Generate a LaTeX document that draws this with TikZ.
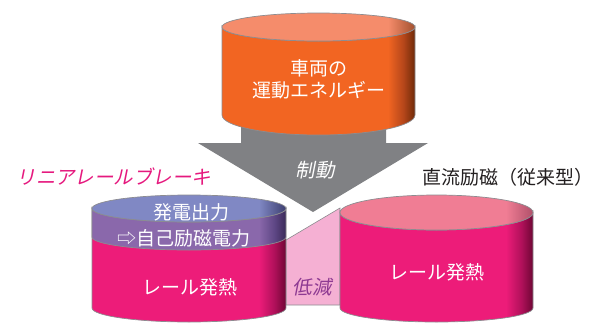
\documentclass[tikz,border=0pt]{standalone}
\usepackage{fontspec}
\newfontfamily\jp{Noto Sans CJK JP}
\newfontfamily\jpit{Noto Sans CJK JP}[FakeSlant=0.2]
\definecolor{orA}{HTML}{F26522}
\definecolor{orB}{HTML}{B5461A}
\definecolor{orC}{HTML}{6E2A08}
\definecolor{orTop}{HTML}{F58C6B}
\definecolor{orTopD}{HTML}{A3512F}
\definecolor{pkA}{HTML}{ED1C79}
\definecolor{pkB}{HTML}{B0105A}
\definecolor{pkC}{HTML}{6E0634}
\definecolor{pkTop}{HTML}{F07D94}
\definecolor{pkTopD}{HTML}{B0506A}
\definecolor{puA}{HTML}{8A68AB}
\definecolor{puB}{HTML}{5E4785}
\definecolor{puC}{HTML}{3A2A58}
\definecolor{lvTop}{HTML}{8088C4}
\definecolor{lvTopD}{HTML}{3D3F70}
\definecolor{arrowgray}{HTML}{808184}
\definecolor{linkpink}{HTML}{F5B0D3}
\definecolor{railpink}{HTML}{E5197E}
\definecolor{lowpurple}{HTML}{8E3A92}
\definecolor{darktext}{HTML}{231F20}
\definecolor{edgegray}{HTML}{8C8C90}
\pgfdeclarehorizontalshading{orSide}{100bp}{color(0bp)=(orA); color(25bp)=(orA); color(68bp)=(orA); color(72bp)=(orB); color(75bp)=(orC); color(100bp)=(orC)}
\pgfdeclarehorizontalshading{orTopS}{100bp}{color(0bp)=(orTop); color(25bp)=(orTop); color(68bp)=(orTop); color(75bp)=(orTopD); color(100bp)=(orTopD)}
\pgfdeclarehorizontalshading{pkSide}{100bp}{color(0bp)=(pkA); color(25bp)=(pkA); color(68bp)=(pkA); color(72bp)=(pkB); color(75bp)=(pkC); color(100bp)=(pkC)}
\pgfdeclarehorizontalshading{pkTopS}{100bp}{color(0bp)=(pkTop); color(25bp)=(pkTop); color(68bp)=(pkTop); color(75bp)=(pkTopD); color(100bp)=(pkTopD)}
\pgfdeclarehorizontalshading{puSide}{100bp}{color(0bp)=(puA); color(25bp)=(puA); color(68bp)=(puA); color(72bp)=(puB); color(75bp)=(puC); color(100bp)=(puC)}
\pgfdeclarehorizontalshading{lvTopS}{100bp}{color(0bp)=(lvTop); color(25bp)=(lvTop); color(68bp)=(lvTop); color(75bp)=(lvTopD); color(100bp)=(lvTopD)}
\newcommand\cylside[7]{%
  \shade[shading=#1, draw=edgegray, line width=0.7pt]
    ({#2-#3},{-#4}) -- ({#2-#3},{-#6})
    arc[start angle=180, end angle=360, x radius=#3, y radius=#7]
    -- ({#2+#3},{-#4})
    arc[start angle=0, end angle=-180, x radius=#3, y radius=#5] -- cycle;}
\newcommand\cyltop[5]{%
  \shade[shading=#1, draw=edgegray, line width=0.7pt]
    (#2,{-#4}) ellipse[x radius=#3, y radius=#5];}
\tikzset{
  txt/.style={inner sep=0pt, font=\jp\fontsize{19}{22}\selectfont},
  wtxt/.style={txt, text=white},
  itxt/.style={inner sep=0pt, font=\jpit\fontsize{19.5}{22}\selectfont}
}
\begin{document}
\begin{tikzpicture}[x=1pt, y=1pt]
\useasboundingbox (0,0) rectangle (598,-322);
% gray arrow
\fill[arrowgray] (241,-100) -- (241,-143) -- (198,-143) -- (313,-212) -- (428,-143) -- (386,-143) -- (386,-100) -- cycle;
% orange cylinder
\cylside{orSide}{318.5}{96.5}{27}{14}{115}{20}
\cyltop{orTopS}{318.5}{96.5}{27}{14}
% pink link region
\fill[linkpink, draw=edgegray, line width=0.6pt] (286,-240) -- (340,-208) -- (340,-305) -- (286,-305) -- cycle;
% left cylinder
\cylside{pkSide}{189}{97}{208.5}{13.5}{308}{14}
\cylside{puSide}{189}{97}{208.5}{13.5}{237}{13}
\cyltop{lvTopS}{189}{97}{208.5}{13.5}
% right cylinder
\cylside{pkSide}{436.5}{96.5}{212.5}{17.5}{308}{14}
\cyltop{pkTopS}{436.5}{96.5}{212.5}{17.5}
% texts
\node[wtxt] (veh) at (318.5,-68) {車両の};
\node[wtxt] (energy) at (318.5,-90) {運動エネルギー};
\node[itxt, text=white] (brake) at (315,-170) {制動};
\node[itxt, text=railpink] (linear) at (114,-177) {リニアレールブレーキ};
\node[txt, text=darktext] (dc) at (507.5,-177) {直流励磁（従来型）};
\node[wtxt] (gen) at (191,-212) {発電出力};
\node[wtxt] (self) at (184,-238) {⇨自己励磁電力};
\node[wtxt] (heatL) at (190,-287) {レール発熱};
\node[wtxt] (heatR) at (437,-272) {レール発熱};
\node[itxt, text=lowpurple] (low) at (312,-287) {低減};
\end{tikzpicture}
\end{document}
